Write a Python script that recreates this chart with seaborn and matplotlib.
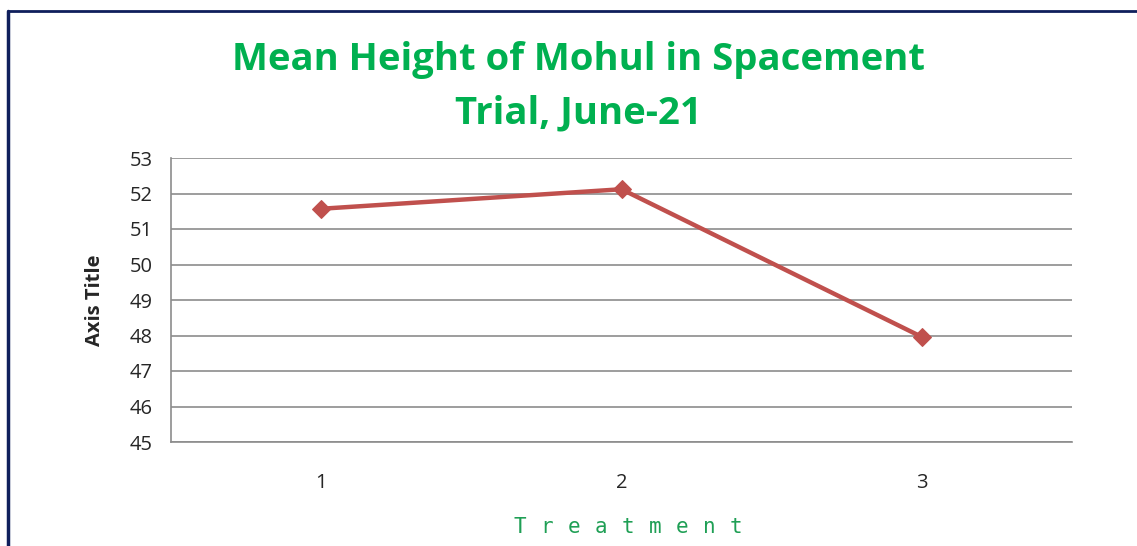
import matplotlib
matplotlib.use("Agg")
import matplotlib.pyplot as plt
import seaborn as sns
import pandas as pd

treatments = [1, 2, 3]
mean_height = [51.57, 52.12, 47.96]
y_ticks = [45, 46, 47, 48, 49, 50, 51, 52, 53]
x_title = "Treatment"

sns.set_style("white")
plt.rcParams['font.family'] = ['Open Sans', 'DejaVu Sans']

df = pd.DataFrame({"Treatment": treatments, "Height": mean_height})

fig = plt.figure(figsize=(11.37, 5.46), dpi=100)
ax = fig.add_axes([171/1137, 1 - 442/546, (1072-171)/1137, (442-158)/546])

sns.lineplot(data=df, x="Treatment", y="Height", ax=ax, color="#C0504D",
             linewidth=3.2, marker="D", markersize=9, markeredgecolor="#C0504D")

ax.set_xlim(0.5, 3.5)
ax.set_ylim(45, 53)
ax.set_yticks(y_ticks)
ax.set_xticks(treatments)
ax.set_xticklabels([str(t) for t in treatments], fontsize=14.5)
ax.set_yticklabels([str(t) for t in y_ticks], fontsize=14.5)
ax.yaxis.grid(True, color="#8c8c8c", linewidth=1.2)
ax.xaxis.grid(False)
ax.set_axisbelow(True)
for s in ["top", "right"]:
    ax.spines[s].set_visible(False)
for s in ["left", "bottom"]:
    ax.spines[s].set_color("#8c8c8c")
    ax.spines[s].set_linewidth(1.2)
ax.tick_params(axis="y", length=5, color="#8c8c8c", width=1.2, pad=8)
ax.tick_params(axis="x", length=0, pad=22)

ax.set_ylabel("Axis Title", fontsize=14.5, fontweight="bold", labelpad=18)
ax.set_xlabel("")

# spaced-out x-axis title
n = len(x_title)
spacing = 27
cx = 628
for i, ch in enumerate(x_title):
    xpx = cx + (i - (n - 1) / 2) * spacing
    fig.text(xpx / 1137, 1 - 527 / 546, ch, ha="center", va="center",
             fontsize=15, color="#1F9F55", fontfamily=["DejaVu Sans Mono", "DejaVu Sans"])

fig.text(578/1137, 1 - 60/546, "Mean Height of Mohul in Spacement",
         ha="center", va="center", fontsize=27.5, fontweight="bold", color="#00B050")
fig.text(578/1137, 1 - 113/546, "Trial, June-21",
         ha="center", va="center", fontsize=27.5, fontweight="bold", color="#00B050")

# outer frame (navy), top and left only visible
fig.add_artist(plt.Line2D([8/1137, 1], [1 - 11/546, 1 - 11/546], transform=fig.transFigure,
                          color="#0F1F5C", linewidth=2))
fig.add_artist(plt.Line2D([8/1137, 8/1137], [0, 1 - 11/546], transform=fig.transFigure,
                          color="#0F1F5C", linewidth=2.5))

fig.savefig("out.png", dpi=100)
